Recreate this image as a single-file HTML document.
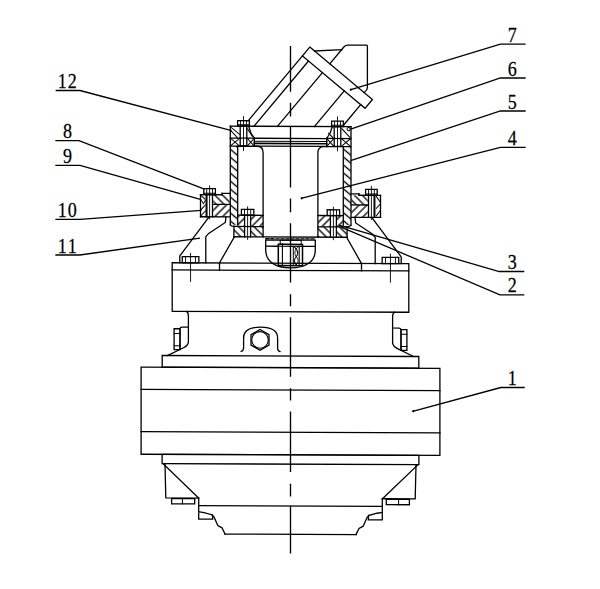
<!DOCTYPE html>
<html><head><meta charset="utf-8"><style>html,body{margin:0;padding:0;background:#fff;}svg{display:block;}</style></head>
<body><svg width="600" height="589" viewBox="0 0 600 589">
<defs><pattern id="h0" patternUnits="userSpaceOnUse" width="6.1" height="6.1" patternTransform="rotate(-50)"><line x1="3.05" y1="-1" x2="3.05" y2="7.1" stroke="#000" stroke-width="1.35"/></pattern><pattern id="h1" patternUnits="userSpaceOnUse" width="6.1" height="6.1" patternTransform="rotate(-50)"><line x1="3.05" y1="-1" x2="3.05" y2="7.1" stroke="#000" stroke-width="1.35"/></pattern><pattern id="h2" patternUnits="userSpaceOnUse" width="5.5" height="5.5" patternTransform="rotate(-45)"><line x1="2.75" y1="-1" x2="2.75" y2="6.5" stroke="#000" stroke-width="1.3"/></pattern><pattern id="h3" patternUnits="userSpaceOnUse" width="5.5" height="5.5" patternTransform="rotate(45)"><line x1="2.75" y1="-1" x2="2.75" y2="6.5" stroke="#000" stroke-width="1.3"/></pattern><pattern id="h4" patternUnits="userSpaceOnUse" width="5.5" height="5.5" patternTransform="rotate(-45)"><line x1="2.75" y1="-1" x2="2.75" y2="6.5" stroke="#000" stroke-width="1.3"/></pattern><pattern id="h5" patternUnits="userSpaceOnUse" width="5.5" height="5.5" patternTransform="rotate(45)"><line x1="2.75" y1="-1" x2="2.75" y2="6.5" stroke="#000" stroke-width="1.3"/></pattern><pattern id="h6" patternUnits="userSpaceOnUse" width="5.5" height="5.5" patternTransform="rotate(45)"><line x1="2.75" y1="-1" x2="2.75" y2="6.5" stroke="#000" stroke-width="1.3"/></pattern><pattern id="h7" patternUnits="userSpaceOnUse" width="5.5" height="5.5" patternTransform="rotate(45)"><line x1="2.75" y1="-1" x2="2.75" y2="6.5" stroke="#000" stroke-width="1.3"/></pattern><pattern id="h8" patternUnits="userSpaceOnUse" width="5.5" height="5.5" patternTransform="rotate(-45)"><line x1="2.75" y1="-1" x2="2.75" y2="6.5" stroke="#000" stroke-width="1.3"/></pattern><pattern id="h9" patternUnits="userSpaceOnUse" width="5.5" height="5.5" patternTransform="rotate(-45)"><line x1="2.75" y1="-1" x2="2.75" y2="6.5" stroke="#000" stroke-width="1.3"/></pattern><pattern id="h10" patternUnits="userSpaceOnUse" width="5.5" height="5.5" patternTransform="rotate(45)"><line x1="2.75" y1="-1" x2="2.75" y2="6.5" stroke="#000" stroke-width="1.3"/></pattern><pattern id="h11" patternUnits="userSpaceOnUse" width="5.5" height="5.5" patternTransform="rotate(45)"><line x1="2.75" y1="-1" x2="2.75" y2="6.5" stroke="#000" stroke-width="1.3"/></pattern><pattern id="h12" patternUnits="userSpaceOnUse" width="5.5" height="5.5" patternTransform="rotate(-45)"><line x1="2.75" y1="-1" x2="2.75" y2="6.5" stroke="#000" stroke-width="1.3"/></pattern><pattern id="h13" patternUnits="userSpaceOnUse" width="5.5" height="5.5" patternTransform="rotate(-45)"><line x1="2.75" y1="-1" x2="2.75" y2="6.5" stroke="#000" stroke-width="1.3"/></pattern></defs>
<g fill="none" stroke="#000" stroke-linecap="square" stroke-linejoin="miter">
<g transform="matrix(1,0.004,0,1,0,-1.1620)">
<line x1="290.5" y1="45.9" x2="290.5" y2="91.8" stroke-width="1.35" stroke-linecap="butt"/>
<line x1="290.5" y1="102.8" x2="290.5" y2="116.4" stroke-width="1.35" stroke-linecap="butt"/>
<line x1="290.5" y1="126.6" x2="290.5" y2="187.5" stroke-width="1.35" stroke-linecap="butt"/>
<line x1="290.5" y1="198.6" x2="290.5" y2="212.2" stroke-width="1.35" stroke-linecap="butt"/>
<line x1="290.5" y1="223.2" x2="290.5" y2="282.4" stroke-width="1.35" stroke-linecap="butt"/>
<line x1="290.5" y1="294.3" x2="290.5" y2="306.2" stroke-width="1.35" stroke-linecap="butt"/>
<line x1="290.5" y1="317.3" x2="290.5" y2="376.8" stroke-width="1.35" stroke-linecap="butt"/>
<line x1="290.5" y1="388.3" x2="290.5" y2="400.6" stroke-width="1.35" stroke-linecap="butt"/>
<line x1="290.5" y1="411.6" x2="290.5" y2="471.9" stroke-width="1.35" stroke-linecap="butt"/>
<line x1="290.5" y1="483.8" x2="290.5" y2="496.5" stroke-width="1.35" stroke-linecap="butt"/>
<line x1="290.5" y1="505.8" x2="290.5" y2="553.4" stroke-width="1.35" stroke-linecap="butt"/>
<polygon points="309.80,47.00 372.42,99.17 365.05,108.00 302.44,55.84" stroke-width="1.3"/>
<line x1="302.44" y1="55.84" x2="248.48" y2="120.60" stroke-width="1.3"/>
<line x1="308.51" y1="60.89" x2="253.85" y2="126.50" stroke-width="1.3"/>
<line x1="322.41" y1="72.48" x2="277.40" y2="126.50" stroke-width="1.3"/>
<line x1="344.23" y1="90.66" x2="314.37" y2="126.50" stroke-width="1.3"/>
<line x1="360.67" y1="104.36" x2="343.89" y2="124.50" stroke-width="1.3"/>
<path d="M329.78,63.64 L344.06,46.5 Q345.56,44.8 348.06,44.8 L366.6,44.8 Q367.4,44.8 367.4,46 L367.4,87.5 Q367.4,90 364.2,92.2" stroke-width="1.3"/>
<line x1="314.49" y1="50.90" x2="341.86" y2="49.40" stroke-width="1.3"/>
<line x1="230.30" y1="126.40" x2="351.00" y2="126.40" stroke-width="1.3"/>
<line x1="230.30" y1="126.40" x2="230.30" y2="225.00" stroke-width="1.3"/>
<line x1="351.00" y1="126.40" x2="351.00" y2="225.00" stroke-width="1.3"/>
<path d="M237.7,225 L237.7,146.4 L257.1,146.4 Q263.1,146.4 263.1,152.6 L263.1,237" stroke-width="1.3"/>
<line x1="230.30" y1="146.40" x2="237.70" y2="146.40" stroke-width="1.3"/>
<line x1="230.30" y1="138.30" x2="254.30" y2="138.30" stroke-width="1.3"/>
<line x1="254.30" y1="138.30" x2="254.30" y2="146.40" stroke-width="1.3"/>
<path d="M248.8,126.8 Q250.2,133.5 254.3,138.3" stroke-width="1.3"/>
<rect x="237.60" y="120.90" width="11.80" height="5.50" stroke-width="1.3" fill="none"/>
<line x1="240.55" y1="121.40" x2="240.55" y2="125.90" stroke-width="0.9"/>
<line x1="246.45" y1="121.40" x2="246.45" y2="125.90" stroke-width="0.9"/>
<line x1="237.60" y1="125.00" x2="249.40" y2="125.00" stroke-width="1.0"/>
<rect x="240.20" y="126.40" width="6.60" height="19.80" stroke-width="1.3" fill="none"/>
<line x1="243.50" y1="116.80" x2="243.50" y2="150.70" stroke-width="0.9"/>
<line x1="230.30" y1="138.30" x2="239.90" y2="146.40" stroke-width="1.0"/>
<line x1="239.90" y1="138.30" x2="230.30" y2="146.40" stroke-width="1.0"/>
<line x1="247.10" y1="138.30" x2="254.30" y2="146.40" stroke-width="1.0"/>
<line x1="254.30" y1="138.30" x2="247.10" y2="146.40" stroke-width="1.0"/>
<line x1="231.00" y1="127.50" x2="239.50" y2="134.50" stroke-width="1.0"/>
<line x1="231.00" y1="131.00" x2="237.50" y2="138.00" stroke-width="1.0"/>
<line x1="247.50" y1="129.00" x2="252.30" y2="136.50" stroke-width="1.0"/>
<path d="M343.3,225 L343.3,146.4 L323.9,146.4 Q317.9,146.4 317.9,152.6 L317.9,237" stroke-width="1.3"/>
<line x1="350.70" y1="146.40" x2="343.30" y2="146.40" stroke-width="1.3"/>
<line x1="350.70" y1="138.30" x2="326.70" y2="138.30" stroke-width="1.3"/>
<line x1="326.70" y1="138.30" x2="326.70" y2="146.40" stroke-width="1.3"/>
<path d="M332.2,126.8 Q330.8,133.5 326.7,138.3" stroke-width="1.3"/>
<rect x="331.60" y="120.90" width="11.80" height="5.50" stroke-width="1.3" fill="none"/>
<line x1="334.55" y1="121.40" x2="334.55" y2="125.90" stroke-width="0.9"/>
<line x1="340.45" y1="121.40" x2="340.45" y2="125.90" stroke-width="0.9"/>
<line x1="331.60" y1="125.00" x2="343.40" y2="125.00" stroke-width="1.0"/>
<rect x="334.20" y="126.40" width="6.60" height="19.80" stroke-width="1.3" fill="none"/>
<line x1="337.50" y1="116.80" x2="337.50" y2="150.70" stroke-width="0.9"/>
<line x1="350.70" y1="138.30" x2="341.10" y2="146.40" stroke-width="1.0"/>
<line x1="341.10" y1="138.30" x2="350.70" y2="146.40" stroke-width="1.0"/>
<line x1="333.90" y1="138.30" x2="326.70" y2="146.40" stroke-width="1.0"/>
<line x1="326.70" y1="138.30" x2="333.90" y2="146.40" stroke-width="1.0"/>
<line x1="341.80" y1="128.50" x2="350.30" y2="137.50" stroke-width="1.0"/>
<circle cx="348.6" cy="128.9" r="1.6" stroke-width="1.0"/>
<line x1="328.50" y1="133.00" x2="333.50" y2="138.00" stroke-width="1.0"/>
<line x1="254.30" y1="138.40" x2="326.70" y2="138.40" stroke-width="1.3"/>
<line x1="254.30" y1="141.40" x2="326.70" y2="141.40" stroke-width="1.1"/>
<line x1="254.30" y1="143.55" x2="326.70" y2="143.55" stroke-width="1.6"/>
<line x1="254.30" y1="146.30" x2="326.70" y2="146.30" stroke-width="1.2"/>
<rect x="230.30" y="146.40" width="7.40" height="78.60" fill="url(#h0)" stroke="none"/>
<rect x="343.30" y="146.40" width="7.70" height="78.60" fill="url(#h1)" stroke="none"/>
<line x1="200.50" y1="195.00" x2="222.00" y2="195.00" stroke-width="1.3"/>
<line x1="222.00" y1="193.70" x2="229.80" y2="193.70" stroke-width="1.3"/>
<line x1="222.00" y1="193.70" x2="222.00" y2="195.00" stroke-width="1.3"/>
<line x1="200.50" y1="195.00" x2="200.50" y2="217.10" stroke-width="1.3"/>
<line x1="200.50" y1="217.10" x2="229.80" y2="217.10" stroke-width="1.3"/>
<line x1="213.20" y1="204.70" x2="229.80" y2="204.70" stroke-width="1.3"/>
<line x1="206.20" y1="195.00" x2="206.20" y2="217.10" stroke-width="1.3"/>
<line x1="206.90" y1="195.00" x2="206.90" y2="217.10" stroke-width="1.3"/>
<line x1="212.50" y1="195.00" x2="212.50" y2="217.10" stroke-width="1.3"/>
<rect x="203.80" y="189.00" width="11.60" height="6.00" stroke-width="1.3" fill="none"/>
<line x1="206.70" y1="189.50" x2="206.70" y2="194.50" stroke-width="0.9"/>
<line x1="212.50" y1="189.50" x2="212.50" y2="194.50" stroke-width="0.9"/>
<line x1="203.80" y1="193.60" x2="215.40" y2="193.60" stroke-width="1.0"/>
<line x1="209.60" y1="186.20" x2="209.60" y2="219.20" stroke-width="0.9"/>
<rect x="213.20" y="195.00" width="16.60" height="9.70" fill="url(#h2)" stroke="none"/>
<rect x="213.20" y="204.70" width="16.60" height="12.40" fill="url(#h3)" stroke="none"/>
<line x1="201.20" y1="196.00" x2="205.20" y2="199.60" stroke-width="1.0"/>
<polyline points="201.20,200.60 203.40,204.00 205.40,200.80" stroke-width="1.0"/>
<line x1="201.20" y1="209.80" x2="205.40" y2="205.20" stroke-width="1.0"/>
<line x1="201.20" y1="216.00" x2="205.40" y2="211.20" stroke-width="1.0"/>
<line x1="380.50" y1="195.00" x2="359.00" y2="195.00" stroke-width="1.3"/>
<line x1="359.00" y1="193.70" x2="351.20" y2="193.70" stroke-width="1.3"/>
<line x1="359.00" y1="193.70" x2="359.00" y2="195.00" stroke-width="1.3"/>
<line x1="380.50" y1="195.00" x2="380.50" y2="217.10" stroke-width="1.3"/>
<line x1="380.50" y1="217.10" x2="351.20" y2="217.10" stroke-width="1.3"/>
<line x1="367.80" y1="204.70" x2="351.20" y2="204.70" stroke-width="1.3"/>
<line x1="374.80" y1="195.00" x2="374.80" y2="217.10" stroke-width="1.3"/>
<line x1="374.10" y1="195.00" x2="374.10" y2="217.10" stroke-width="1.3"/>
<line x1="368.50" y1="195.00" x2="368.50" y2="217.10" stroke-width="1.3"/>
<rect x="365.60" y="189.00" width="11.60" height="6.00" stroke-width="1.3" fill="none"/>
<line x1="368.50" y1="189.50" x2="368.50" y2="194.50" stroke-width="0.9"/>
<line x1="374.30" y1="189.50" x2="374.30" y2="194.50" stroke-width="0.9"/>
<line x1="365.60" y1="193.60" x2="377.20" y2="193.60" stroke-width="1.0"/>
<line x1="371.40" y1="186.20" x2="371.40" y2="219.20" stroke-width="0.9"/>
<rect x="351.20" y="195.00" width="16.60" height="9.70" fill="url(#h4)" stroke="none"/>
<rect x="351.20" y="204.70" width="16.60" height="12.40" fill="url(#h5)" stroke="none"/>
<line x1="376.40" y1="196.20" x2="380.40" y2="202.00" stroke-width="1.0"/>
<line x1="376.40" y1="208.00" x2="380.40" y2="203.50" stroke-width="1.0"/>
<line x1="376.40" y1="215.50" x2="380.40" y2="210.00" stroke-width="1.0"/>
<line x1="237.70" y1="215.40" x2="263.10" y2="215.40" stroke-width="1.3"/>
<line x1="233.90" y1="226.70" x2="263.10" y2="226.70" stroke-width="1.3"/>
<line x1="233.90" y1="226.70" x2="233.90" y2="237.00" stroke-width="1.3"/>
<rect x="237.70" y="215.40" width="6.90" height="11.30" fill="url(#h6)" stroke="none"/>
<rect x="250.60" y="215.40" width="12.50" height="11.30" fill="url(#h7)" stroke="none"/>
<rect x="233.90" y="226.70" width="10.70" height="10.30" fill="url(#h8)" stroke="none"/>
<rect x="250.60" y="226.70" width="12.50" height="10.30" fill="url(#h9)" stroke="none"/>
<rect x="241.40" y="209.60" width="12.40" height="5.80" stroke-width="1.3" fill="none"/>
<line x1="244.50" y1="210.10" x2="244.50" y2="214.90" stroke-width="0.9"/>
<line x1="250.70" y1="210.10" x2="250.70" y2="214.90" stroke-width="0.9"/>
<line x1="244.60" y1="215.40" x2="244.60" y2="237.00" stroke-width="1.3"/>
<line x1="250.60" y1="215.40" x2="250.60" y2="237.00" stroke-width="1.3"/>
<line x1="247.60" y1="207.00" x2="247.60" y2="239.50" stroke-width="0.9"/>
<path d="M230.3,225 Q231,226.7 233.9,226.7" stroke-width="1.3"/>
<line x1="343.30" y1="215.40" x2="317.90" y2="215.40" stroke-width="1.3"/>
<line x1="347.10" y1="226.70" x2="317.90" y2="226.70" stroke-width="1.3"/>
<line x1="347.10" y1="226.70" x2="347.10" y2="237.00" stroke-width="1.3"/>
<rect x="336.40" y="215.40" width="6.90" height="11.30" fill="url(#h10)" stroke="none"/>
<rect x="317.90" y="215.40" width="12.50" height="11.30" fill="url(#h11)" stroke="none"/>
<rect x="336.40" y="226.70" width="10.70" height="10.30" fill="url(#h12)" stroke="none"/>
<rect x="317.90" y="226.70" width="12.50" height="10.30" fill="url(#h13)" stroke="none"/>
<rect x="327.20" y="209.60" width="12.40" height="5.80" stroke-width="1.3" fill="none"/>
<line x1="330.30" y1="210.10" x2="330.30" y2="214.90" stroke-width="0.9"/>
<line x1="336.50" y1="210.10" x2="336.50" y2="214.90" stroke-width="0.9"/>
<line x1="330.40" y1="215.40" x2="330.40" y2="237.00" stroke-width="1.3"/>
<line x1="336.40" y1="215.40" x2="336.40" y2="237.00" stroke-width="1.3"/>
<line x1="333.40" y1="207.00" x2="333.40" y2="239.50" stroke-width="0.9"/>
<path d="M350.7,225 Q350.0,226.7 347.1,226.7" stroke-width="1.3"/>
<line x1="233.90" y1="237.00" x2="347.10" y2="237.00" stroke-width="1.3"/>
<line x1="266.00" y1="238.85" x2="269.00" y2="238.85" stroke-width="1.3"/>
<line x1="271.00" y1="238.85" x2="274.00" y2="238.85" stroke-width="1.3"/>
<line x1="276.00" y1="238.85" x2="279.00" y2="238.85" stroke-width="1.3"/>
<line x1="281.00" y1="238.85" x2="284.00" y2="238.85" stroke-width="1.3"/>
<line x1="286.00" y1="238.85" x2="289.00" y2="238.85" stroke-width="1.3"/>
<line x1="291.00" y1="238.85" x2="294.00" y2="238.85" stroke-width="1.3"/>
<line x1="296.00" y1="238.85" x2="299.00" y2="238.85" stroke-width="1.3"/>
<line x1="301.00" y1="238.85" x2="304.00" y2="238.85" stroke-width="1.3"/>
<line x1="306.00" y1="238.85" x2="309.00" y2="238.85" stroke-width="1.3"/>
<line x1="311.00" y1="238.85" x2="314.00" y2="238.85" stroke-width="1.3"/>
<path d="M265.7,240.1 L315.3,240.1 M265.7,240.1 L265.7,250 C265.7,262 276,267.9 290.5,267.9 C305,267.9 315.3,262 315.3,250 L315.3,240.1" stroke-width="1.3"/>
<line x1="265.70" y1="246.30" x2="278.30" y2="246.30" stroke-width="1.3"/>
<line x1="302.70" y1="246.30" x2="315.30" y2="246.30" stroke-width="1.3"/>
<rect x="278.30" y="244.40" width="24.20" height="21.20" stroke-width="1.5" fill="none"/>
<line x1="278.30" y1="246.30" x2="302.50" y2="246.30" stroke-width="1.1"/>
<rect x="280.20" y="240.30" width="21.00" height="4.10" stroke-width="1.0" fill="none"/>
<line x1="282.40" y1="244.40" x2="282.40" y2="265.60" stroke-width="1.1"/>
<line x1="293.30" y1="246.30" x2="293.30" y2="265.60" stroke-width="1.0"/>
<line x1="299.20" y1="246.30" x2="299.20" y2="265.60" stroke-width="1.1"/>
<path d="M294,246.5 C298,250 298.5,254 296,257 C293.5,260 294,263 297,265.3" stroke-width="1.0"/>
<path d="M298.5,246.5 C294,250 294,254 296.5,257 C299,260 298.5,263 295.5,265.3" stroke-width="0.9"/>
<polyline points="208.50,218.00 179.80,256.40 179.80,263.25" stroke-width="1.3"/>
<polyline points="226.00,217.20 225.30,222.70 208.70,233.70 205.80,237.00 205.80,263.25" stroke-width="1.3"/>
<line x1="234.20" y1="237.30" x2="219.50" y2="263.25" stroke-width="1.3"/>
<line x1="219.50" y1="263.25" x2="219.50" y2="270.45" stroke-width="1.3"/>
<polyline points="372.50,218.00 401.20,256.40 401.20,263.25" stroke-width="1.3"/>
<polyline points="355.00,217.20 355.70,222.70 372.30,233.70 375.20,237.00 375.20,263.25" stroke-width="1.3"/>
<line x1="346.80" y1="237.30" x2="361.50" y2="263.25" stroke-width="1.3"/>
<line x1="361.50" y1="263.25" x2="361.50" y2="270.45" stroke-width="1.3"/>
<rect x="172.20" y="263.25" width="236.60" height="48.55" stroke-width="1.3" fill="none"/>
<line x1="172.20" y1="270.45" x2="408.80" y2="270.45" stroke-width="1.3"/>
<rect x="182.25" y="257.00" width="16.60" height="6.25" stroke-width="1.3" fill="none"/>
<line x1="185.57" y1="257.50" x2="185.57" y2="262.75" stroke-width="0.9"/>
<line x1="195.53" y1="257.50" x2="195.53" y2="262.75" stroke-width="0.9"/>
<line x1="190.55" y1="253.80" x2="190.55" y2="281.80" stroke-width="0.9"/>
<rect x="382.15" y="257.00" width="16.60" height="6.25" stroke-width="1.3" fill="none"/>
<line x1="385.47" y1="257.50" x2="385.47" y2="262.75" stroke-width="0.9"/>
<line x1="395.43" y1="257.50" x2="395.43" y2="262.75" stroke-width="0.9"/>
<line x1="390.45" y1="253.80" x2="390.45" y2="281.80" stroke-width="0.9"/>
<path d="M186.6,311.8 Q188.6,313.2 188.4,316.5 L188.4,342.5 Q188,346 183.5,348.2 L167.5,356" stroke-width="1.3"/>
<path d="M188.4,327.6 L182,327.6 Q180,327.6 180,329.5 L180,349.6" stroke-width="1.2"/>
<rect x="174.10" y="329.20" width="5.90" height="20.80" stroke-width="1.3" fill="none"/>
<line x1="174.10" y1="333.90" x2="180.00" y2="333.90" stroke-width="1.0"/>
<line x1="174.10" y1="346.10" x2="180.00" y2="346.10" stroke-width="1.0"/>
<path d="M394.4,311.8 Q392.4,313.2 392.6,316.5 L392.6,342.5 Q393.0,346 397.5,348.2 L413.5,356" stroke-width="1.3"/>
<path d="M392.6,327.6 L399.0,327.6 Q401.0,327.6 401.0,329.5 L401.0,349.6" stroke-width="1.2"/>
<rect x="401.00" y="329.20" width="5.90" height="20.80" stroke-width="1.3" fill="none"/>
<line x1="406.90" y1="333.90" x2="401.00" y2="333.90" stroke-width="1.0"/>
<line x1="406.90" y1="346.10" x2="401.00" y2="346.10" stroke-width="1.0"/>
<polygon points="260.00,329.60 269.01,334.80 269.01,345.20 260.00,350.40 250.99,345.20 250.99,334.80" stroke-width="1.3"/>
<circle cx="260.0" cy="340.0" r="8.3" stroke-width="1.1"/>
<path d="M241.2,351.6 Q243.6,351 243.6,348 L243.6,338 C243.6,330 251,327.2 260.5,327.2 C270,327.2 277.6,330 277.6,338 L277.6,348 Q277.6,351 280,351.6" stroke-width="1.3"/>
<rect x="162.20" y="356.00" width="256.60" height="11.60" stroke-width="1.3" fill="none"/>
<rect x="141.10" y="367.70" width="298.80" height="87.15" stroke-width="1.3" fill="none"/>
<line x1="141.10" y1="390.00" x2="439.90" y2="390.00" stroke-width="1.3"/>
<line x1="141.10" y1="432.20" x2="439.90" y2="432.20" stroke-width="1.3"/>
<rect x="162.10" y="454.85" width="256.80" height="9.30" stroke-width="1.3" fill="none"/>
<polyline points="165.00,464.50 165.80,498.40 198.60,498.40" stroke-width="1.3"/>
<line x1="162.90" y1="464.10" x2="198.60" y2="498.40" stroke-width="1.3"/>
<rect x="171.60" y="499.00" width="23.10" height="5.30" stroke-width="1.3" fill="none"/>
<line x1="182.40" y1="499.00" x2="182.40" y2="504.30" stroke-width="1.0"/>
<polyline points="198.70,498.40 198.70,519.50 212.70,519.50 212.50,515.20 204.00,512.90 198.70,512.10" stroke-width="1.3"/>
<polyline points="212.00,515.20 214.00,517.20 217.80,525.90 222.00,528.10 225.00,534.30" stroke-width="1.3"/>
<polyline points="416.00,464.50 415.20,498.40 382.40,498.40" stroke-width="1.3"/>
<line x1="418.10" y1="464.10" x2="382.40" y2="498.40" stroke-width="1.3"/>
<rect x="386.30" y="499.00" width="23.10" height="5.30" stroke-width="1.3" fill="none"/>
<line x1="398.60" y1="499.00" x2="398.60" y2="504.30" stroke-width="1.0"/>
<polyline points="382.30,498.40 382.30,519.50 368.30,519.50 368.50,515.20 377.00,512.90 382.30,512.10" stroke-width="1.3"/>
<polyline points="369.00,515.20 367.00,517.20 363.20,525.90 359.00,528.10 356.00,534.30" stroke-width="1.3"/>
<line x1="198.70" y1="506.00" x2="382.30" y2="506.00" stroke-width="1.3"/>
<line x1="225.00" y1="534.30" x2="356.00" y2="534.30" stroke-width="1.3"/>
</g>
<polyline points="525.00,44.20 500.40,44.20 350.80,89.70" stroke-width="1.3"/>
<polyline points="56.30,90.50 80.00,90.50 231.00,130.50" stroke-width="1.3"/>
<polyline points="56.00,140.70 79.00,140.70 203.80,188.80" stroke-width="1.3"/>
<polyline points="56.00,165.30 80.00,165.30 200.60,199.40" stroke-width="1.3"/>
<polyline points="56.00,219.40 80.00,219.40 200.80,210.40" stroke-width="1.3"/>
<polyline points="56.00,255.00 80.00,255.00 199.30,238.20" stroke-width="1.3"/>
<polyline points="525.00,78.00 500.40,78.00 351.30,128.90" stroke-width="1.3"/>
<polyline points="525.00,111.00 500.40,111.00 351.20,160.40" stroke-width="1.3"/>
<polyline points="525.00,147.30 500.40,147.30 301.70,198.30" stroke-width="1.3"/>
<polyline points="523.70,271.50 499.20,271.50 339.70,225.30" stroke-width="1.3"/>
<polyline points="523.70,294.90 499.90,294.90 341.70,227.30" stroke-width="1.3"/>
<polyline points="524.10,387.50 500.80,387.50 413.30,411.20" stroke-width="1.3"/>
<circle cx="350.8" cy="89.7" r="1.1" fill="#000" stroke="none"/>
<circle cx="301.7" cy="198.3" r="1.1" fill="#000" stroke="none"/>
<circle cx="413.3" cy="411.2" r="1.1" fill="#000" stroke="none"/>
</g>
<g font-family="Liberation Serif" font-size="21" text-anchor="middle" fill="#000" stroke="#000" stroke-width="0.25"><text transform="translate(62.20,88.00) scale(0.86,1)">1</text><text transform="translate(72.30,88.00) scale(0.86,1)">2</text><text transform="translate(67.40,138.20) scale(0.86,1)">8</text><text transform="translate(67.40,162.80) scale(0.86,1)">9</text><text transform="translate(62.20,216.90) scale(0.86,1)">1</text><text transform="translate(72.30,216.90) scale(0.86,1)">0</text><text transform="translate(62.20,252.50) scale(0.86,1)">1</text><text transform="translate(72.30,252.50) scale(0.86,1)">1</text><text transform="translate(512.20,41.70) scale(0.86,1)">7</text><text transform="translate(512.20,75.50) scale(0.86,1)">6</text><text transform="translate(512.20,108.50) scale(0.86,1)">5</text><text transform="translate(512.20,144.80) scale(0.86,1)">4</text><text transform="translate(512.20,269.00) scale(0.86,1)">3</text><text transform="translate(512.20,292.40) scale(0.86,1)">2</text><text transform="translate(512.20,385.00) scale(0.86,1)">1</text></g>
</svg></body></html>
